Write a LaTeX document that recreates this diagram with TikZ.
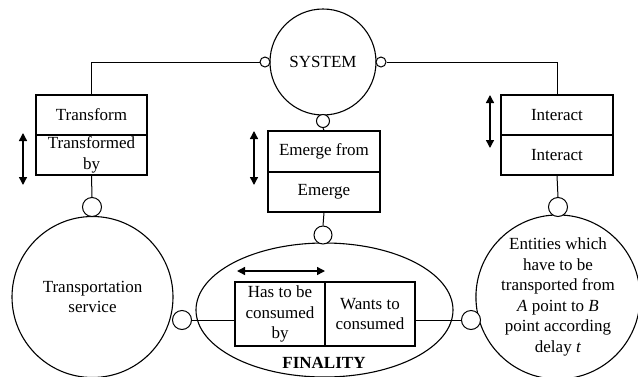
\documentclass[tikz,border=0pt]{standalone}
\usepackage{fontspec}
\setmainfont{Liberation Serif}
\usetikzlibrary{shapes.geometric, arrows.meta}

\begin{document}
\begin{tikzpicture}[x=1pt, y=-1pt, line width=1.1pt,
    every node/.style={font=\fontsize{17}{20.5}\selectfont, align=center, inner sep=0pt},
    bigcirc/.style={circle, draw},
    hole/.style={circle, draw, fill=white, line width=1pt},
    cell/.style={rectangle, draw, minimum width=112pt, minimum height=40pt},
    dblarrow/.style={{Triangle[length=8pt, width=8pt]}-{Triangle[length=8pt, width=8pt]}, line width=1.4pt}]
    \useasboundingbox (0,0) rectangle (638,376);

    % main shapes
    \node[bigcirc, minimum size=106pt] (system) at (323,62) {SYSTEM};
    \node[bigcirc, minimum size=161pt] (transport) at (92.5,297) {Transportation\\service};
    \node[bigcirc, minimum size=160pt] (entities) at (558,297)
        {Entities which\\have to be\\transported from\\\textit{A} point to \textit{B}\\point according\\delay \textit{t}};
    \node[ellipse, draw, minimum width=257pt, minimum height=134pt] (finality) at (324.5,310) {};
    \node (finlabel) at (324,363) {\textbf{FINALITY}};

    % relation boxes
    \node[cell, minimum width=111pt] (trans) at (91.5,115) {Transform};
    \node[cell, minimum width=111pt] (transby) at (91.5,155) {Transformed\\by};
    \node[cell, minimum height=41pt] (emfrom) at (324,151.5) {Emerge from};
    \node[cell] (emerge) at (324,192) {Emerge};
    \node[cell] (inter) at (557,115) {Interact};
    \node[cell] (inter2) at (557,155) {Interact};
    \node[cell, minimum width=90pt, minimum height=64pt] (hascons) at (280,314) {Has to be\\consumed\\by};
    \node[cell, minimum width=90pt, minimum height=64pt] (wants) at (370,314) {Wants to\\consumed};

    % small joints
    \node[hole, minimum size=10pt] (sysL) at (265,62) {};
    \node[hole, minimum size=10pt] (sysR) at (381,62) {};
    \node[hole, minimum size=13pt] (sysB) at (323,121) {};
    \node[hole, minimum size=19pt] (holeT) at (92,207) {};
    \node[hole, minimum size=18pt] (holeF) at (323,235) {};
    \node[hole, minimum size=19pt] (holeE) at (558,207) {};
    \node[hole, minimum size=19pt] (holeL) at (182,320) {};
    \node[hole, minimum size=19pt] (holeR) at (471,320) {};

    % connectors
    \draw[line width=1pt] (sysL.west) -| (trans.north);
    \draw[line width=1pt] (sysR.east) -| (inter.north);
    \draw[line width=1pt] (sysB.south) -- (emfrom.north);
    \draw[line width=1pt] (transby.south) -- (holeT.north);
    \draw[line width=1pt] (emerge.south) -- (holeF.north);
    \draw[line width=1pt] (inter2.south) -- (holeE.north);
    \draw[line width=1pt] (holeL.east) -- (holeL.east -| hascons.west);
    \draw[line width=1pt] (holeR.west) -- (holeR.west -| wants.east);

    % direction arrows
    \draw[dblarrow] (23,133) -- (23,185);
    \draw[dblarrow] (254,131) -- (254,185);
    \draw[dblarrow] (490,95) -- (490,148);
    \draw[dblarrow] (237,271) -- (325,271);
\end{tikzpicture}
\end{document}
